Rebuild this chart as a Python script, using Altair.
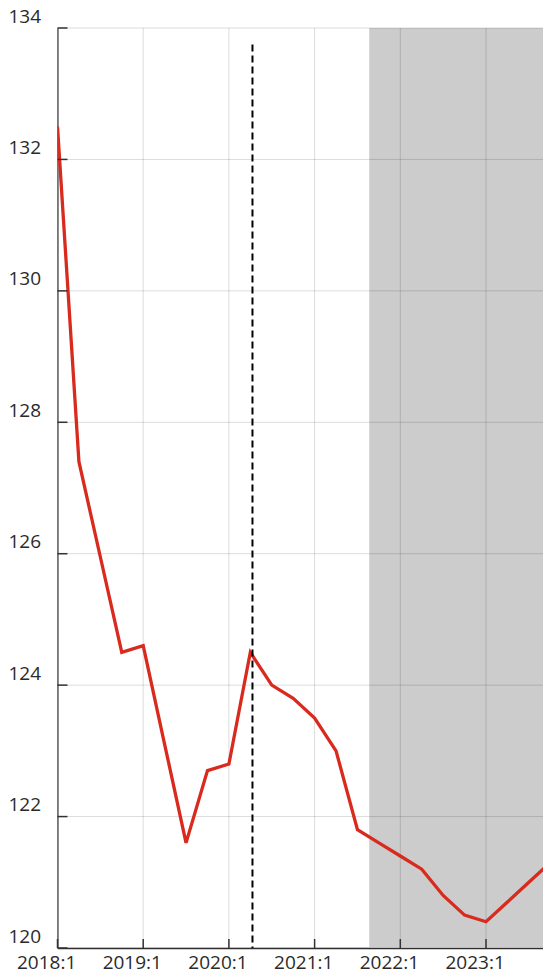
import altair as alt
import pandas as pd

# ---- data ----
quarter_index = list(range(24))  # 2018:1 ... 2023:4
values = [132.5, 127.4, 125.95, 124.5, 124.6, 123.1, 121.6, 122.7, 122.8, 124.5,
          124.0, 123.8, 123.5, 123.0, 121.8, 121.6, 121.4, 121.2, 120.8, 120.5,
          120.4, 120.7, 121.0, 121.3]
year_ticks = [0, 4, 8, 12, 16, 20]
year_labels = ["2018:1", "2019:1", "2020:1", "2021:1", "2022:1", "2023:1"]
y_ticks = [120, 122, 124, 126, 128, 130, 132, 134]
shade_start = [14.55]
shade_end = [23]
event_t = [9.1]
event_top = [133.75]

W, H = 485.5, 920
xscale = alt.Scale(domain=[0, 22.66], nice=False, zero=False)
yscale = alt.Scale(domain=[120, 134], nice=False, zero=False)

df = pd.DataFrame({"t": quarter_index, "v": values})
shade_df = pd.DataFrame({"t": shade_start, "t2": shade_end})
vgrid_df = pd.DataFrame({"t": year_ticks})
hgrid_df = pd.DataFrame({"v": y_ticks})
event_df = pd.DataFrame({"t": event_t, "v": event_top})

label_expr = "[" + ",".join("'%s'" % s for s in year_labels) + "][datum.value/4]"
FONT = "Open Sans"

xaxis = alt.Axis(values=year_ticks, labelExpr=label_expr, title=None, grid=False,
                 ticks=False, labelPadding=20.5, labelBaseline="alphabetic",
                 labelOffset=-11.4, labelFlush=False, labelOverlap=False,
                 domainColor="#333333", domainWidth=1.5,
                 labelFont=FONT, labelFontSize=19, labelColor="#2a2a2a")
yaxis = alt.Axis(values=y_ticks, title=None, grid=False, ticks=False,
                 labelAlign="left", labelPadding=49.5, labelBaseline="alphabetic",
                 labelOffset=-6, labelFlush=False, labelOverlap=False,
                 domainColor="#8a8a8a", domainWidth=2,
                 labelFont=FONT, labelFontSize=19, labelColor="#2a2a2a")

X = lambda: alt.X("t:Q", scale=xscale, axis=xaxis)
Y = lambda: alt.Y("v:Q", scale=yscale, axis=yaxis)

shade = alt.Chart(shade_df).mark_rect(color="#cccccc", clip=True).encode(
    x=X(), x2="t2:Q", y=alt.value(0), y2=alt.value(H),
)

vgrid = alt.Chart(vgrid_df).mark_rule(color="#000000", opacity=0.14, strokeWidth=1).encode(
    x=X(), y=alt.value(0), y2=alt.value(H),
)

hgrid = alt.Chart(hgrid_df).mark_rule(color="#000000", opacity=0.14, strokeWidth=1).encode(
    y=Y(), x=alt.value(0), x2=alt.value(W),
)

line = alt.Chart(df).mark_line(color="#d92a1e", strokeWidth=3.3, clip=True).encode(
    x=X(), y=Y(),
)

event = alt.Chart(event_df).mark_rule(color="#000000", strokeWidth=2, strokeDash=[7, 4]).encode(
    x=X(), y=Y(), y2=alt.value(H),
)

ytick = alt.Chart(hgrid_df).mark_rule(color="#333333", strokeWidth=1.5).encode(
    y=Y(), x=alt.value(0), x2=alt.value(10),
)

xtick = alt.Chart(vgrid_df).mark_rule(color="#333333", strokeWidth=1.5).encode(
    x=X(), y=alt.value(H), y2=alt.value(H - 9),
)

chart = alt.layer(shade, vgrid, hgrid, line, event, ytick, xtick).properties(
    width=W, height=H,
    autosize=alt.AutoSizeParams(type="none"),
    padding={"left": 49.5, "top": 20, "right": 0, "bottom": 26},
    background="white",
).configure_view(stroke=None)

chart.save("out.html", embed_options={"renderer": "svg", "actions": False})
